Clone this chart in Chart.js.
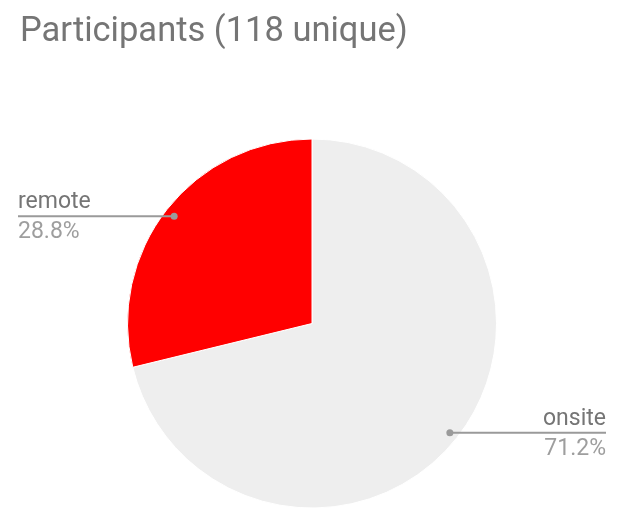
<!DOCTYPE html>
<html>
<head>
<meta charset="utf-8">
<script src="https://cdn.jsdelivr.net/npm/chart.js@4/dist/chart.umd.min.js"></script>
<style>
  html, body { margin: 0; padding: 0; background: #ffffff; }
  #wrap { position: relative; width: 624px; height: 522px; }
</style>
</head>
<body>
<div id="wrap"><canvas id="pieChart" width="624" height="522"></canvas></div>
<script>
const chartTitle = 'Participants (118 unique)';
const categories = ['onsite', 'remote'];
const counts = [84, 34];
const sliceColors = ['#eeeeee', '#ff0000'];

// Leader lines with category name above and percentage below
const leaderLabels = {
    id: 'leaderLabels',
    afterDraw(chart) {
        const ctx = chart.ctx;
        const meta = chart.getDatasetMeta(0);
        const total = counts.reduce((a, b) => a + b, 0);

        ctx.save();
        ctx.font = '34.5px Roboto';
        ctx.fillStyle = '#757575';
        ctx.textAlign = 'left';
        ctx.textBaseline = 'alphabetic';
        ctx.fillText(chartTitle, 20, 41);

        meta.data.forEach((arc, i) => {
            const mid = (arc.startAngle + arc.endAngle) / 2;
            const r = arc.outerRadius * 0.95;
            const px = arc.x + Math.cos(mid) * r;
            const py = arc.y + Math.sin(mid) * r + 1;
            const right = Math.cos(mid) > 0;
            const edge = right ? 606 : 18;

            ctx.strokeStyle = '#9a9a9a';
            ctx.lineWidth = 2;
            ctx.beginPath();
            ctx.moveTo(px, py);
            ctx.lineTo(edge, py);
            ctx.stroke();

            ctx.fillStyle = '#9a9a9a';
            ctx.beginPath();
            ctx.arc(px, py, 3.5, 0, Math.PI * 2);
            ctx.fill();

            ctx.textAlign = right ? 'right' : 'left';
            ctx.font = '23px Roboto';
            ctx.fillStyle = '#757575';
            ctx.fillText(categories[i], edge, py - 8);
            ctx.fillStyle = '#9e9e9e';
            ctx.fillText((counts[i] / total * 100).toFixed(1) + '%', edge, py + 22);
        });
        ctx.restore();
    }
};

new Chart(document.getElementById('pieChart'), {
    type: 'pie',
    data: {
        labels: categories,
        datasets: [{
            data: counts,
            backgroundColor: sliceColors,
            borderColor: '#ffffff',
            borderWidth: 1
        }]
    },
    options: {
        responsive: false,
        animation: false,
        layout: {
            padding: { left: 127, right: 127, top: 138, bottom: 13 }
        },
        plugins: {
            legend: { display: false },
            tooltip: { enabled: false }
        }
    },
    plugins: [leaderLabels]
});
</script>
</body>
</html>
